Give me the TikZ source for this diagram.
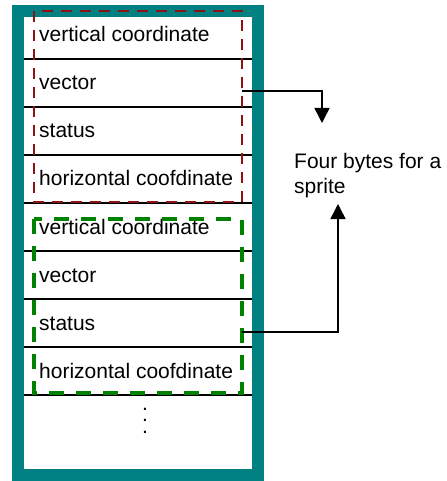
\documentclass[tikz,border=0pt]{standalone}
\usepackage{fontspec}
\setmainfont{Liberation Sans}
\usetikzlibrary{arrows.meta,calc,positioning}
\definecolor{frameteal}{RGB}{0,128,128}
\definecolor{boxred}{RGB}{140,20,20}
\definecolor{boxgreen}{RGB}{0,130,0}
\tikzset{
	rowline/.style={line width=1.5bp},
	redbox/.style={draw=boxred, line width=2.8bp, dash pattern=on 11bp off 8bp},
	greenbox/.style={draw=boxgreen, line width=3.8bp, dash pattern=on 15bp off 12bp},
	link/.style={line width=1.5bp, -{Triangle[length=15bp,width=15bp]}},
	field/.style={anchor=base west, inner sep=0pt}
}

\begin{document}
\begin{tikzpicture}[x=1bp, y=-1bp, font=\fontsize{21bp}{24bp}\selectfont]
	\useasboundingbox (0,0) rectangle (447,481);
	\fill[white] (18,11) rectangle (258,475);
	\foreach \y in {59,107,...,395}
		\draw[rowline] (18,\y) -- (258,\y);
	\foreach \lbl [count=\i] in {vertical coordinate, vector, status, horizontal coofdinate,
		vertical coordinate, vector, status, horizontal coofdinate}
		\node[field] (row\i) at (39, {42+48*(\i-1)}) {\lbl};
	\node[align=center, inner sep=0pt, font=\fontsize{21bp}{11.5bp}\selectfont, anchor=base] (dots) at (145,433) {.\\.\\.};
	\draw[line width=12bp, frameteal] (18,11) rectangle (258,475);
	\draw[redbox] (34,11) rectangle (242,202);
	\draw[greenbox] (34,219) rectangle (242,393);
	\node[field, align=left] (note) at (294,193) {Four bytes for a\\sprite};
	\coordinate (vecout) at (242,91);
	\coordinate (statout) at (242,332);
	\coordinate (tipdown) at (322,123);
	\coordinate (tipup) at (338,204);
	\draw[link] (vecout) -| (tipdown);
	\draw[link] (statout) -| (tipup);
\end{tikzpicture}
\end{document}
